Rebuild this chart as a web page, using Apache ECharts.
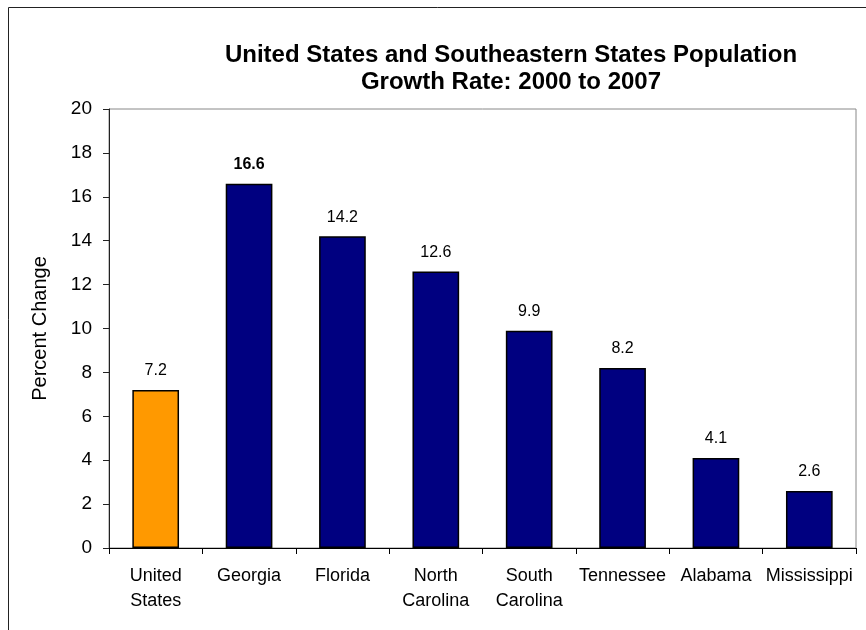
<!DOCTYPE html>
<html>
<head>
<meta charset="utf-8">
<script src="https://cdn.jsdelivr.net/npm/echarts@6/dist/echarts.min.js"></script>
<style>
  html, body { margin: 0; padding: 0; background: #fff; }
  #chart { width: 866px; height: 630px; }
</style>
</head>
<body>
<div id="chart"></div>
<script>
// Population growth, 2000 to 2007 (percent change)
const categories = ['United\nStates', 'Georgia', 'Florida', 'North\nCarolina', 'South\nCarolina', 'Tennessee', 'Alabama', 'Mississippi'];
const growth = [7.2, 16.6, 14.2, 12.6, 9.9, 8.2, 4.1, 2.6];
const yTicks = [0, 2, 4, 6, 8, 10, 12, 14, 16, 18, 20];

const FONT = '"Liberation Sans", Arial, sans-serif';

const barData = growth.map((v, i) => ({
  value: v,
  itemStyle: { color: i === 0 ? '#FF9900' : '#000080' },
  label: i === 1 ? { fontWeight: 'bold' } : undefined
}));

const chart = echarts.init(document.getElementById('chart'), null, { renderer: 'canvas' });
chart.setOption({
  animation: false,
  backgroundColor: '#fff',
  textStyle: { fontFamily: FONT },
  graphic: [{
    type: 'rect',
    shape: { x: 8.5, y: 7.5, width: 900, height: 700 },
    style: { fill: null, stroke: '#222', lineWidth: 1 },
    silent: true
  }],
  title: {
    text: 'United States and Southeastern States Population\nGrowth Rate: 2000 to 2007',
    left: 506,
    top: 37,
    textAlign: 'center',
    textStyle: { fontFamily: FONT, fontSize: 24, fontWeight: 'bold', color: '#000', lineHeight: 27 }
  },
  grid: {
    left: 109, top: 109, right: 10, bottom: 82,
    show: true, borderColor: '#888', borderWidth: 1, backgroundColor: '#fff'
  },
  xAxis: {
    type: 'category',
    data: categories,
    axisLine: { lineStyle: { color: '#000', width: 1 } },
    axisTick: { show: true, alignWithLabel: false, length: 6, lineStyle: { color: '#000' } },
    axisLabel: {
      interval: 0, color: '#000', fontSize: 18, fontFamily: FONT,
      lineHeight: 25, margin: 16
    }
  },
  yAxis: {
    type: 'value',
    min: yTicks[0], max: yTicks[yTicks.length - 1], interval: 2,
    name: 'Percent Change',
    nameLocation: 'middle',
    nameGap: 59,
    nameTextStyle: { fontSize: 20, color: '#000', fontFamily: FONT },
    axisLine: { show: true, lineStyle: { color: '#222', width: 1 } },
    axisTick: { show: true, length: 6, lineStyle: { color: '#222' } },
    splitLine: { show: false },
    axisLabel: { color: '#000', fontSize: 19, fontFamily: FONT, margin: 17 }
  },
  series: [{
    type: 'bar',
    data: barData,
    barCategoryGap: '50%',
    itemStyle: { borderColor: '#000', borderWidth: 1.5 },
    label: {
      show: true, position: 'top', distance: 11,
      color: '#000', fontSize: 16, fontFamily: FONT,
      formatter: p => p.value.toFixed(1)
    }
  }]
});
</script>
</body>
</html>
